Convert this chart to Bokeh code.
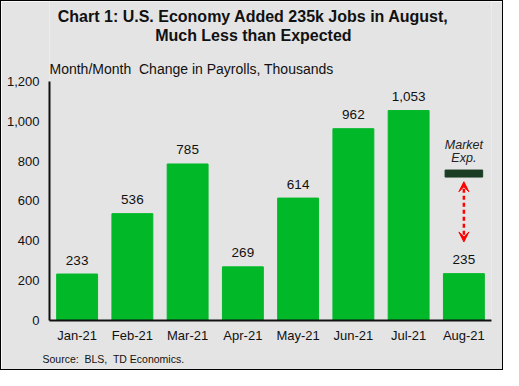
from bokeh.plotting import figure
from bokeh.models import (Arrow, VeeHead, NumeralTickFormatter, ColumnDataSource,
                          FactorRange, Range1d, FixedTicker, Title)
from bokeh.embed import file_html
from bokeh.resources import INLINE
from bokeh.core.properties import value

# ---- data ----
months = ["Jan-21", "Feb-21", "Mar-21", "Apr-21", "May-21", "Jun-21", "Jul-21", "Aug-21"]
payrolls = [233, 536, 785, 269, 614, 962, 1053, 235]
payroll_labels = ["233", "536", "785", "269", "614", "962", "1,053", "235"]
market_exp = 737
arrow_top = 696
arrow_bottom = 394
y_ticks = [0, 200, 400, 600, 800, 1000, 1200]
y_axis_max = 1200
y_view_max = 1600   # headroom above the axis where the titles sit

title_1 = "Chart 1: U.S. Economy Added 235k Jobs in August,"
title_2 = "Much Less than Expected"
subtitle = "Month/Month\u00a0 Change in Payrolls, Thousands"
source_note = "Source:\u00a0 BLS,\u00a0 TD Economics."

FONT = "Liberation Sans"
BG = "#e4e4e4"
GREEN = "#00b828"
DARK = "#1a3d24"
TXT = "#111111"

src = ColumnDataSource(dict(m=months, v=payrolls, lbl=payroll_labels))

p = figure(x_range=FactorRange(*months), y_range=Range1d(0, y_view_max),
           width=503, height=370, output_backend="svg", toolbar_location=None,
           min_border_left=48, min_border_right=13, min_border_top=0, min_border_bottom=51)
p.x_range.range_padding = 0
p.background_fill_color = BG
p.border_fill_color = BG
p.outline_line_color = None
p.grid.visible = False

p.vbar(x="m", top="v", width=0.74, color=GREEN, source=src)
p.text(x="m", y="v", text="lbl", source=src, y_offset=-14, text_align="center",
       text_baseline="alphabetic", text_font=value(FONT), text_font_size="13.5px",
       text_color=TXT)

# market expectation marker
p.rect(x=["Aug-21"], y=[market_exp], width=0.68, height=7, height_units="screen",
       color=DARK)
p.text(x=["Aug-21", "Aug-21"], y=[878, 816], text=["Market", "Exp."], text_align="center",
       text_baseline="middle", text_font=value(FONT), text_font_size="12.5px",
       text_font_style="italic", text_color="#222222")
p.add_layout(Arrow(start=VeeHead(size=10, fill_color="red", line_color="red"),
                   end=VeeHead(size=10, fill_color="red", line_color="red"),
                   x_start=7.5, y_start=arrow_top, x_end=7.5, y_end=arrow_bottom,
                   line_color="red", line_width=2.5, line_dash="4 3"))

# axes
for ax in (p.xaxis[0], p.yaxis[0]):
    ax.axis_line_color = TXT
    ax.axis_line_width = 2
    ax.major_tick_line_color = None
    ax.minor_tick_line_color = None
    ax.major_tick_out = 0
    ax.major_tick_in = 0
    ax.major_label_text_font = FONT
    ax.major_label_text_font_size = "13px"
    ax.major_label_text_color = TXT
p.yaxis.ticker = FixedTicker(ticks=y_ticks)
p.yaxis.bounds = (0, y_axis_max)
p.yaxis.formatter = NumeralTickFormatter(format="0,0")
p.yaxis.major_label_standoff = 10
p.xaxis.major_label_standoff = 7

# titles placed relative to the top of the axis (pixel offsets)
p.text(x=[3.69], y=[y_axis_max], text=[title_1], y_offset=-65, text_align="center",
       text_baseline="middle", text_font=value(FONT), text_font_size="16px",
       text_font_style="bold", text_color=TXT)
p.text(x=[3.69], y=[y_axis_max], text=[title_2], y_offset=-46, text_align="center",
       text_baseline="middle", text_font=value(FONT), text_font_size="16px",
       text_font_style="bold", text_color=TXT)
p.text(x=[0], y=[y_axis_max], text=[subtitle], x_offset=0, y_offset=-12, text_align="left",
       text_baseline="middle", text_font=value(FONT), text_font_size="14px",
       text_color=TXT)

p.add_layout(Title(text=source_note, align="left", offset=-7, standoff=11,
                   text_font=FONT, text_font_size="10.5px", text_font_style="normal",
                   text_color=TXT), "below")

p.styles = {"border": "1px solid black", "box-sizing": "border-box"}

open("out.html", "w").write(file_html(p, INLINE))
